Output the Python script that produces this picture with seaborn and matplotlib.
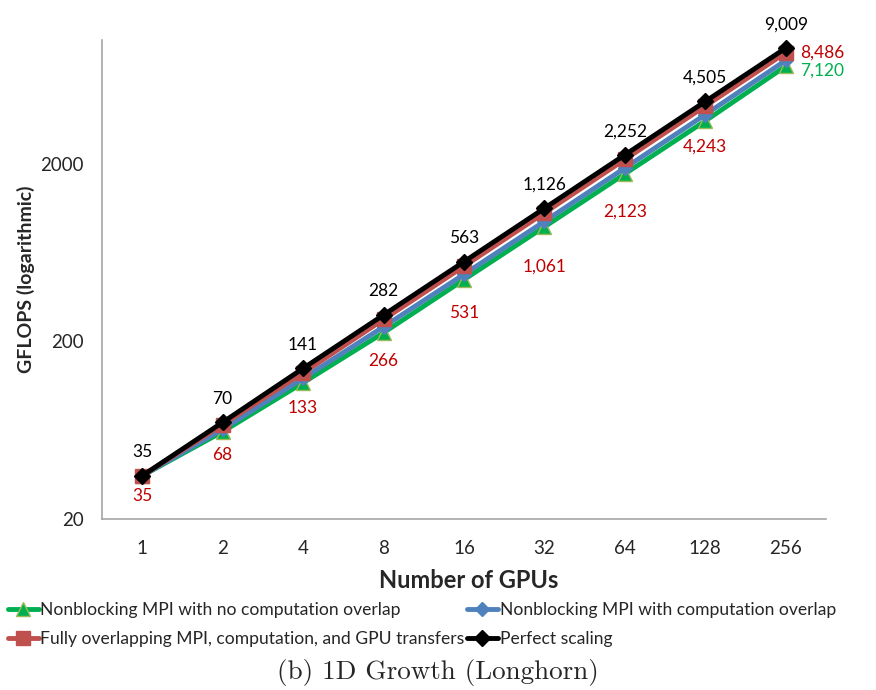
import matplotlib
matplotlib.use("Agg")
import matplotlib.pyplot as plt
import seaborn as sns
import pandas as pd

sns.set_theme(style="white")
plt.rcParams['font.family'] = ['Lato', 'DejaVu Sans']

gpus = ['1', '2', '4', '8', '16', '32', '64', '128', '256']
no_overlap = [35, 62, 117, 224, 446, 885, 1760, 3500, 7120]
comp_overlap = [35, 64, 124, 242, 478, 950, 1900, 3800, 7680]
full_overlap = [35, 68, 133, 266, 531, 1061, 2123, 4243, 8486]
perfect = [35, 70, 141, 282, 563, 1126, 2252, 4505, 9009]

names = ['Nonblocking MPI with no computation overlap',
         'Nonblocking MPI with computation overlap',
         'Fully overlapping MPI, computation, and GPU transfers',
         'Perfect scaling']
series = [no_overlap, comp_overlap, full_overlap, perfect]
colors = ['#00B050', '#4F81BD', '#C0504D', '#000000']
markers = ['^', 'D', 's', 'D']
msizes = [10, 7, 10, 8]
medges = ['#9BBB59', '#4F81BD', '#C0504D', '#000000']

# label drop (in px) under the red points, as placed in the original
red_drop = [20, 30, 35, 42, 47, 54, 52, 41]

rows = []
for name, vals in zip(names, series):
    for i, v in enumerate(vals):
        rows.append({'pos': i, 'GFLOPS': v, 'series': name})
df = pd.DataFrame(rows)

fig = plt.figure(figsize=(8.76, 6.9), dpi=100)
ax = fig.add_axes([0.1164, 0.248, 0.8265, 0.694])

for name, c, m, ms, me in zip(names, colors, markers, msizes, medges):
    sub = df[df['series'] == name]
    sns.lineplot(data=sub, x='pos', y='GFLOPS', ax=ax, color=c, lw=3.5,
                 marker=m, markersize=ms, markeredgecolor=me,
                 markeredgewidth=1, label=name, legend=False)

ax.set_yscale('log')
ax.set_ylim(20, 10000)
ax.set_xlim(-0.5, 8.5)
ax.set_yticks([20, 200, 2000])
ax.set_yticklabels(['20', '200', '2000'])
ax.yaxis.set_minor_locator(matplotlib.ticker.NullLocator())
ax.set_xticks(range(9))
ax.set_xticklabels(gpus)
ax.set_xticks([i - 0.5 for i in range(10)], minor=True)
ax.tick_params(axis='x', which='major', length=0, labelsize=13.5, pad=15)
ax.tick_params(axis='x', which='minor', length=6, width=1, color='#A6A6A6',
               direction='out')
ax.tick_params(axis='y', which='major', length=6, width=1, color='#A6A6A6',
               direction='out', labelsize=13.5, pad=7)
for s in ['top', 'right']:
    ax.spines[s].set_visible(False)
for s in ['left', 'bottom']:
    ax.spines[s].set_color('#A6A6A6')
    ax.spines[s].set_linewidth(1.2)

ax.set_xlabel('Number of GPUs', fontsize=17, fontweight='bold')
ax.xaxis.set_label_coords(0.507, -0.105)
ax.set_ylabel('GFLOPS (logarithmic)', fontsize=14, fontweight='bold',
              labelpad=4)

for i, v in enumerate(perfect):
    ax.annotate(f'{v:,}', (i, v), xytext=(0, 17), textcoords='offset points',
                ha='center', va='center', fontsize=12.5, color='black')
for i, v in enumerate(full_overlap):
    if i == len(full_overlap) - 1:
        ax.annotate(f'{v:,}', (i, v), xytext=(10, 0),
                    textcoords='offset points', ha='left', va='center',
                    fontsize=12.5, color='#C00000')
    else:
        ax.annotate(f'{v:,}', (i, v), xytext=(0, -red_drop[i] * 0.72),
                    textcoords='offset points', ha='center', va='center',
                    fontsize=12.5, color='#C00000')
ax.annotate(f'{no_overlap[-1]:,}', (8, no_overlap[-1]), xytext=(10, -3),
            textcoords='offset points', ha='left', va='center',
            fontsize=12.5, color='#00B050')

handles, labels = ax.get_legend_handles_labels()
order = [0, 2, 1, 3]
fig.legend([handles[k] for k in order], [labels[k] for k in order],
           loc='upper left', bbox_to_anchor=(0.009, 0.127), ncol=2,
           frameon=False, fontsize=12.6, handlelength=1.75,
           handletextpad=0.1, columnspacing=0.15, borderaxespad=0,
           labelspacing=0.75, borderpad=0)

fig.text(0.5, 0.026, '(b) 1D Growth (Longhorn)', ha='center', va='center',
         fontsize=19.5, family=['cmr10', 'DejaVu Serif'])

fig.savefig('out.png', dpi=100)
